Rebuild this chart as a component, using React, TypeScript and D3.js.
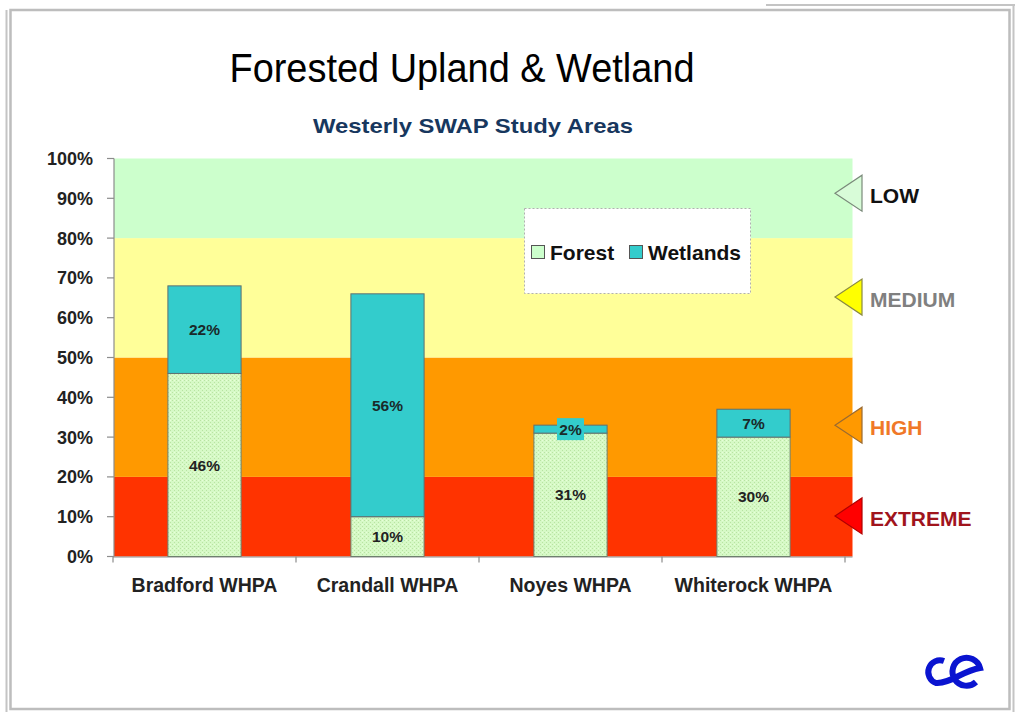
import React from "react";
import * as d3 from "d3";

const categories = ["Bradford WHPA", "Crandall WHPA", "Noyes WHPA", "Whiterock WHPA"];
const forestValues = [46, 10, 31, 30];
const wetlandValues = [22, 56, 2, 7];
const yTicks = [0, 10, 20, 30, 40, 50, 60, 70, 80, 90, 100];
const riskBands = [
  { name: "EXTREME", from: 0, to: 20, fill: "#FF3300", marker: 10.2, tri: "#FF0000", triStroke: "#B00000", text: "#A0141C" },
  { name: "HIGH", from: 20, to: 50, fill: "#FF9900", marker: 33, tri: "#FF9900", triStroke: "#9A6A30", text: "#F07828" },
  { name: "MEDIUM", from: 50, to: 80, fill: "#FFFF99", marker: 65.2, tri: "#FFFF00", triStroke: "#8A8A40", text: "#808080" },
  { name: "LOW", from: 80, to: 100, fill: "#CCFFCC", marker: 91.3, tri: "#D8FCD8", triStroke: "#7A8A7A", text: "#111111" },
];

const FONT = "'Liberation Sans', Arial, Helvetica, sans-serif";

export default function App() {
  const W = 1015, H = 712;
  const x = d3.scaleBand<string>().domain(categories).range([113, 845]).paddingInner(0.6).paddingOuter(0.3);
  const y = d3.scaleLinear().domain([0, 100]).range([556.5, 158.5]);
  const plotLeft = 114, plotRight = 852.5;
  const bw = x.bandwidth();

  const triPath = (cy: number) => {
    const p = d3.path();
    p.moveTo(835, cy);
    p.lineTo(862, cy - 18);
    p.lineTo(862, cy + 18);
    p.closePath();
    return p.toString();
  };

  return (
    <svg width={W} height={H} style={{ position: "absolute", left: 0, top: 0, background: "#fff" }} fontFamily={FONT}>
      <defs>
        <pattern id="forestPat" width="4" height="4" patternUnits="userSpaceOnUse">
          <rect width="4" height="4" fill="#D6F9C6" />
          <rect x="0" y="0" width="1" height="1" fill="#B9E3A2" />
          <rect x="2" y="2" width="1" height="1" fill="#B9E3A2" />
          <rect x="2" y="0" width="1" height="1" fill="#E8FFD8" />
        </pattern>
      </defs>
      <rect width={W} height={H} fill="#fff" />

      {/* frame */}
      <line x1={766} y1={5} x2={1015} y2={5} stroke="#C4C4C4" strokeWidth={2} />
      <line x1={1013.5} y1={5} x2={1013.5} y2={712} stroke="#C4C4C4" strokeWidth={2} />
      <line x1={6.5} y1={10} x2={6.5} y2={712} stroke="#C4C4C4" strokeWidth={2} />
      <rect x={10.5} y={10} width={999} height={699} fill="none" stroke="#BDBDBD" strokeWidth={2.5} />

      {/* titles */}
      <text x={462} y={82} textAnchor="middle" fontSize={40} textLength={465} lengthAdjust="spacingAndGlyphs" fill="#000">
        Forested Upland &amp; Wetland
      </text>
      <text x={473} y={133} textAnchor="middle" fontSize={21} fontWeight="bold" textLength={320} lengthAdjust="spacingAndGlyphs" fill="#17375E">
        Westerly SWAP Study Areas
      </text>

      {/* risk bands */}
      {riskBands.map((b) => (
        <rect key={b.name} x={plotLeft} y={y(b.to)} width={plotRight - plotLeft} height={y(b.from) - y(b.to)} fill={b.fill} />
      ))}

      {/* y axis */}
      <line x1={plotLeft} y1={y(100)} x2={plotLeft} y2={y(0)} stroke="#8C8C8C" strokeWidth={1.2} />
      {yTicks.map((t) => (
        <g key={t}>
          <line x1={107} x2={plotLeft} y1={y(t)} y2={y(t)} stroke="#8C8C8C" strokeWidth={1.2} />
          <text x={93} y={y(t)} dy="0.36em" textAnchor="end" fontSize={18} fontWeight="bold" fill="#222">
            {t}%
          </text>
        </g>
      ))}

      {/* x axis */}
      <line x1={113} x2={plotRight} y1={y(0) + 0.5} y2={y(0) + 0.5} stroke="#8C8C8C" strokeWidth={1.2} />
      {d3.range(categories.length + 1).map((i) => {
        const xx = 113 + i * x.step();
        return <line key={i} x1={xx} x2={xx} y1={y(0)} y2={y(0) + 6} stroke="#8C8C8C" strokeWidth={1.2} />;
      })}
      {categories.map((c) => (
        <text key={c} x={(x(c) as number) + bw / 2} y={592} textAnchor="middle" fontSize={19.5} fontWeight="bold" fill="#222">
          {c}
        </text>
      ))}

      {/* bars */}
      {categories.map((c, i) => {
        const x0 = x(c) as number;
        const f = forestValues[i];
        const w = wetlandValues[i];
        const cx = x0 + bw / 2;
        const fy = (y(0) + y(f)) / 2;
        const wy = (y(f) + y(f + w)) / 2;
        const small = y(f) - y(f + w) < 18;
        return (
          <g key={c}>
            <rect x={x0} y={y(f)} width={bw} height={y(0) - y(f)} fill="url(#forestPat)" stroke="#6E7F6E" strokeWidth={1} />
            <rect x={x0} y={y(f + w)} width={bw} height={y(f) - y(f + w)} fill="#33CCCC" stroke="#5F7070" strokeWidth={1} />
            <text x={cx} y={fy} dy="0.36em" textAnchor="middle" fontSize={15.5} fontWeight="bold" fill="#222">
              {f}%
            </text>
            {small && <rect x={cx - 13.5} y={wy - 11} width={27} height={22} fill="#33CCCC" />}
            <text x={cx} y={wy} dy="0.36em" textAnchor="middle" fontSize={15.5} fontWeight="bold" fill="#1a2a2a">
              {w}%
            </text>
          </g>
        );
      })}

      {/* legend */}
      <rect x={524.5} y={208.5} width={226} height={85} fill="#fff" stroke="#B0B0B0" strokeWidth={1} strokeDasharray="2,2" />
      <rect x={531.5} y={245.5} width={13} height={13} fill="#CCFFCC" stroke="#555" strokeWidth={1} />
      <text x={550} y={252} dy="0.36em" fontSize={21} fontWeight="bold" fill="#111">Forest</text>
      <rect x={629.5} y={245.5} width={13} height={13} fill="#33CCCC" stroke="#555" strokeWidth={1} />
      <text x={648} y={252} dy="0.36em" fontSize={21} fontWeight="bold" fill="#111">Wetlands</text>

      {/* risk markers */}
      {riskBands.map((b) => {
        const cy = y(b.marker);
        return (
          <g key={"m" + b.name}>
            <path d={triPath(cy)} fill={b.tri} stroke={b.triStroke} strokeWidth={1.2} />
            <text x={870} y={cy + 2.5} dy="0.36em" fontSize={21} fontWeight="bold" fill={b.text}>
              {b.name}
            </text>
          </g>
        );
      })}

      {/* logo */}
      <path
        d="M 944 661 A 11.5 11.5 0 1 0 936 683 C 950 684 962 671 980 668 A 14 14 0 1 0 976 682"
        fill="none"
        stroke="#0A14D0"
        strokeWidth={6}
        strokeLinecap="butt"
      />
    </svg>
  );
}
